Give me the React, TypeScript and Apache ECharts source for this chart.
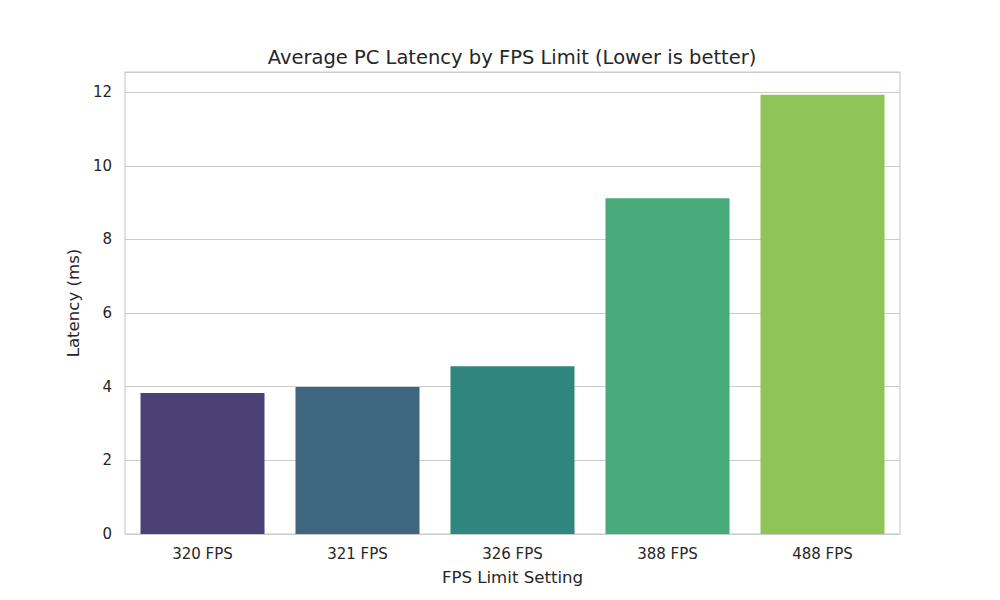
import { useEffect, useRef } from 'react';
import * as echarts from 'echarts';

// FPS limit categories and measured average latency (ms)
const fpsLimits = ['320 FPS', '321 FPS', '326 FPS', '388 FPS', '488 FPS'];
const latencyMs = [3.83, 3.99, 4.56, 9.12, 11.93];
// viridis palette (desaturated like seaborn bars)
const barColors = ['#4b4176', '#3e667f', '#2f867f', '#47aa7a', '#8fc458'];

const FONT = '"DejaVu Sans", sans-serif';
const TEXT = '#262626';

export default function App() {
  const chartRef = useRef<HTMLDivElement>(null);

  useEffect(() => {
    if (!chartRef.current) return;
    const chart = echarts.init(chartRef.current, null, { renderer: 'svg' });

    const option = {
      animation: false,
      backgroundColor: '#ffffff',
      textStyle: { fontFamily: FONT, color: TEXT },
      title: {
        text: 'Average PC Latency by FPS Limit (Lower is better)',
        left: 507,
        top: 42,
        textAlign: 'center',
        textStyle: { fontFamily: FONT, fontSize: 19.5, fontWeight: 'normal', color: TEXT }
      },
      grid: {
        left: 125,
        right: 100,
        top: 72,
        bottom: 66,
        show: true,
        borderColor: '#cccccc',
        borderWidth: 1.2
      },
      xAxis: {
        type: 'category',
        data: fpsLimits,
        name: 'FPS Limit Setting',
        nameLocation: 'middle',
        nameGap: 35,
        nameTextStyle: { fontFamily: FONT, fontSize: 16.6, color: TEXT },
        axisLine: { show: false },
        axisTick: { show: false },
        axisLabel: { fontFamily: FONT, fontSize: 15, color: TEXT, margin: 12 },
        splitLine: { show: false }
      },
      yAxis: {
        type: 'value',
        min: 0,
        max: 12.55,
        interval: 2,
        name: 'Latency (ms)',
        nameLocation: 'middle',
        nameGap: 39,
        nameTextStyle: { fontFamily: FONT, fontSize: 16.6, color: TEXT },
        axisLine: { show: false },
        axisTick: { show: false },
        axisLabel: { fontFamily: FONT, fontSize: 15, color: TEXT, margin: 13, showMaxLabel: false },
        splitLine: { lineStyle: { color: '#cccccc', width: 1.2 } }
      },
      series: [
        {
          type: 'bar',
          barCategoryGap: '20%',
          data: latencyMs.map((v, i) => ({ value: v, itemStyle: { color: barColors[i] } }))
        }
      ]
    };

    chart.setOption(option);
    return () => chart.dispose();
  }, []);

  return (
    <div
      ref={chartRef}
      style={{ position: 'absolute', left: 0, top: 0, width: 1000, height: 600 }}
    />
  );
}
